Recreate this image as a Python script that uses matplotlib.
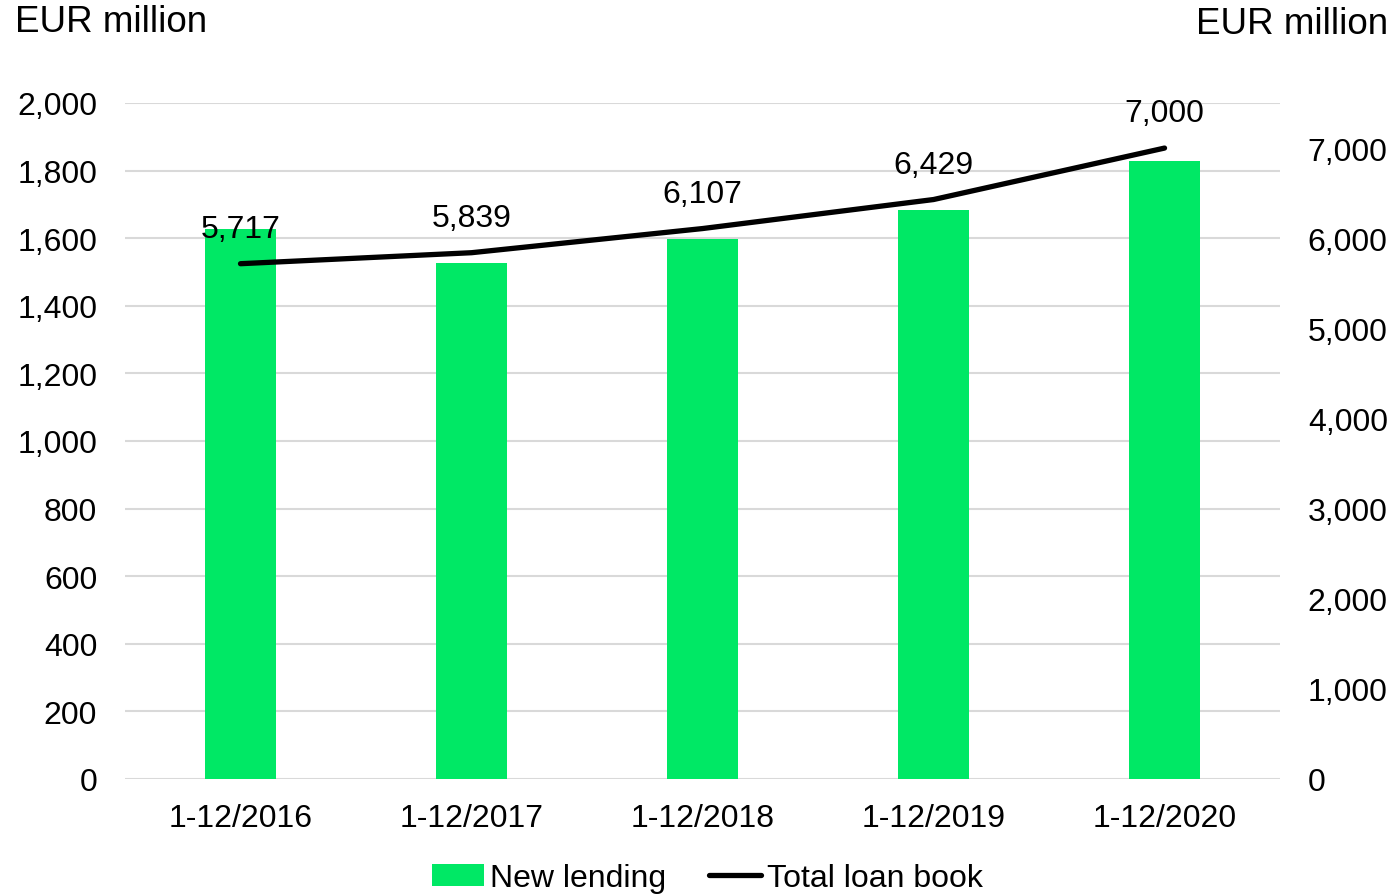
import matplotlib.pyplot as plt
import numpy as np

plt.rcParams['font.family'] = ['Liberation Sans', 'DejaVu Sans']

# Data
periods = ["1-12/2016", "1-12/2017", "1-12/2018", "1-12/2019", "1-12/2020"]
new_lending = [1627, 1527, 1598, 1683, 1828]
loan_book = [5717, 5839, 6107, 6429, 7000]

green = '#00E865'
grid_c = '#D9D9D9'
fs = 23

fig = plt.figure(figsize=(13.95, 8.95), dpi=100)
ax = fig.add_axes([0.0896, 0.1285, 0.828, 0.7553])
ax2 = ax.twinx()

x = np.arange(len(periods))
ax.bar(x, new_lending, width=0.31, color=green, zorder=2, label="New lending")
ax.set_ylim(0, 2000)
ax.set_yticks(np.arange(0, 2001, 200))
ax.set_yticklabels([f"{v:,}" for v in range(0, 2001, 200)])
ax.set_xlim(-0.5, len(periods) - 0.5)
ax.set_xticks(x)
ax.set_xticklabels(periods)
ax.grid(axis='y', color=grid_c, linewidth=1.5, zorder=0)
ax.set_axisbelow(True)
for s in ax.spines.values():
    s.set_visible(False)
ax.tick_params(length=0, labelsize=fs, pad=20)
ax.tick_params(axis='x', pad=17)

ax2.plot(x, loan_book, color='black', linewidth=3.8, solid_capstyle='round',
         zorder=3, label="Total loan book")
ax2.set_ylim(0, 7500)
ax2.set_yticks(np.arange(0, 7001, 1000))
ax2.set_yticklabels([f"{v:,}" for v in range(0, 7001, 1000)])
for s in ax2.spines.values():
    s.set_visible(False)
ax2.tick_params(length=0, labelsize=fs, pad=20)

for xi, v in zip(x, loan_book):
    ax2.annotate(f"{v:,}", (xi, v), xytext=(0, 25), textcoords='offset points',
                 ha='center', va='center', fontsize=fs)

fig.text(15 / 1395, 1 - 22 / 895, "EUR million", fontsize=26.5, ha='left', va='center')
fig.text(1388 / 1395, 1 - 25 / 895, "EUR million", fontsize=26.5, ha='right', va='center')

h1, l1 = ax.get_legend_handles_labels()
h2, l2 = ax2.get_legend_handles_labels()
fig.legend(h1 + h2, l1 + l2, loc='center', bbox_to_anchor=(0.507, 1 - 879 / 895),
           ncol=2, frameon=False, fontsize=fs, handlelength=1.63, handletextpad=0.19,
           columnspacing=1.35, borderaxespad=0)

fig.savefig("out.png", dpi=100)
